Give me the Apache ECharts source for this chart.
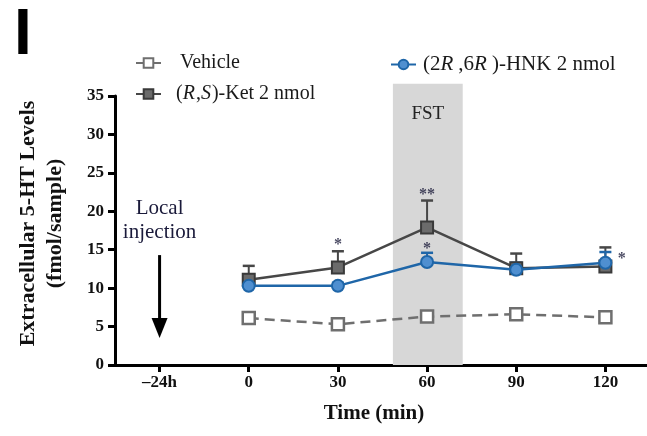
<!DOCTYPE html>
<html>
<head>
<meta charset="utf-8">
<script src="https://cdn.jsdelivr.net/npm/echarts@6/dist/echarts.min.js"></script>
<style>
  html, body { margin: 0; padding: 0; background: #fff; }
  #chart { width: 647px; height: 436px; }
</style>
</head>
<body>
<div id="chart"></div>
<script>
// Sampling times (min) and axis ticks; -30 stands for the -24 h injection point
const timePoints = [0, 30, 60, 90, 120];
const tickValues = [-30, 0, 30, 60, 90, 120];
const tickLabels = ['–24h', '0', '30', '60', '90', '120'];

// Extracellular 5-HT (fmol/sample): means and upper SEM
const vehicle  = [6.1, 5.3, 6.3, 6.6, 6.2];
const ketMean  = [11.1, 12.7, 17.9, 12.6, 12.8];
const ketUpper = [12.9, 14.8, 21.4, 14.5, 15.3];
const hnkMean  = [10.3, 10.3, 13.4, 12.4, 13.3];
const hnkUpper = [11.4, 10.7, 14.6, 13.3, 14.7];

// Significance marks
const starX    = [30, 60, 60, 125.5];
const starY    = [16.2, 22.6, 15.6, 14.3];
const starText = ['*', '**', '*', '*'];

// Forced swim test window and local injection marker
const fstWindow = [48.5, 72];
const fstTop = 36.6;
const injectionTime = -30;
const injectionArrow = [14.3, 3.5];
const injectionText = [['Local', 20.4], ['injection', 17.2]];

const SERIF = '"Liberation Serif", "Times New Roman", serif';
const names = ['Vehicle', '(R,S)-Ket 2 nmol', '(2R,6R)-HNK 2 nmol'];
const colors = { vehicle: '#6f6f6f', ket: '#474747', hnk: '#1f66a8' };

// italicise the stereo descriptors R / S in legend names
function richName(name) {
  return name.split(/([RS])/).filter(s => s.length).map(s =>
    (s === 'R' || s === 'S') ? '{i|' + s + '}' : '{n|' + s + '}').join('');
}

function errorBars(means, uppers, color) {
  return {
    type: 'custom',
    silent: true,
    z: 3,
    encode: { x: 0, y: [1, 2] },
    data: timePoints.map((t, i) => [t, means[i], uppers[i]]),
    renderItem(params, api) {
      const p0 = api.coord([api.value(0), api.value(1)]);
      const p1 = api.coord([api.value(0), api.value(2)]);
      return {
        type: 'group',
        children: [
          { type: 'line', shape: { x1: p0[0], y1: p0[1], x2: p1[0], y2: p1[1] },
            style: { stroke: color, lineWidth: 2 } },
          { type: 'line', shape: { x1: p1[0] - 6, y1: p1[1], x2: p1[0] + 6, y2: p1[1] },
            style: { stroke: color, lineWidth: 2.5 } }
        ]
      };
    }
  };
}

function legendAt(name, left, top, pad, fs, italicGap) {
  return {
    data: [name], left: left, top: top, itemWidth: 25, itemHeight: 12,
    selectedMode: false, formatter: richName,
    textStyle: {
      fontFamily: SERIF, fontSize: fs, color: '#1a1a1a', padding: [0, 0, 0, pad],
      rich: {
        n: { fontFamily: SERIF, fontSize: fs, color: '#1a1a1a' },
        i: { fontFamily: SERIF, fontSize: fs, fontStyle: 'italic', color: '#1a1a1a',
             padding: [0, italicGap, 0, 0] }
      }
    }
  };
}

const chart = echarts.init(document.getElementById('chart'), null, { renderer: 'canvas' });
chart.setOption({
  animation: false,
  backgroundColor: '#fff',
  grid: { left: 115, right: 0, top: 96, bottom: 71, containLabel: false },
  legend: [
    legendAt(names[0], 130, 48, 14, 20, 0),
    legendAt(names[1], 130, 79, 10, 20, 1),
    legendAt(names[2], 385, 49, 2, 21, 5)
  ],
  graphic: [
    { type: 'text', left: 14, top: 4,
      style: { text: 'I', fontFamily: '"Liberation Sans", Arial, sans-serif',
               fontWeight: 'bold', fontSize: 64, fill: '#000' } }
  ],
  xAxis: {
    type: 'value', min: -45, max: 134,
    axisLine: { show: true, onZero: false, lineStyle: { color: '#000', width: 3 } },
    axisTick: { show: true, customValues: tickValues, length: 7, lineStyle: { color: '#000', width: 3 } },
    axisLabel: {
      customValues: tickValues, margin: 9,
      formatter: v => tickLabels[tickValues.indexOf(v)],
      fontFamily: SERIF, fontWeight: 'bold', fontSize: 17, color: '#111'
    },
    splitLine: { show: false },
    name: 'Time (min)', nameLocation: 'middle', nameGap: 38,
    nameTextStyle: { fontFamily: SERIF, fontWeight: 'bold', fontSize: 21, color: '#111', padding: [0, 14, 0, 0] }
  },
  yAxis: {
    type: 'value', min: 0, max: 35, interval: 5,
    axisLine: { show: true, onZero: false, lineStyle: { color: '#000', width: 3 } },
    axisTick: { show: true, length: 7, lineStyle: { color: '#000', width: 3 } },
    axisLabel: { margin: 11, fontFamily: SERIF, fontWeight: 'bold', fontSize: 17, color: '#111' },
    splitLine: { show: false },
    name: 'Extracellular 5-HT Levels\n(fmol/sample)',
    nameLocation: 'middle', nameRotate: 90, nameGap: 46,
    nameTextStyle: { fontFamily: SERIF, fontWeight: 'bold', fontSize: 22, lineHeight: 27, color: '#111',
                     padding: [0, 0, 0, 14] }
  },
  series: [
    { // FST shaded window with its label
      type: 'custom', silent: true, clip: false, z: 1,
      data: [[fstWindow[0], fstWindow[1], fstTop]],
      renderItem(params, api) {
        const a = api.coord([api.value(0), api.value(2)]);
        const b = api.coord([api.value(1), 0]);
        return {
          type: 'group',
          children: [
            { type: 'rect', shape: { x: a[0], y: a[1], width: b[0] - a[0], height: b[1] - a[1] },
              style: { fill: '#d7d7d7' } },
            { type: 'text', x: (a[0] + b[0]) / 2, y: a[1] + 30,
              style: { text: 'FST', fontFamily: SERIF, fontSize: 19, fill: '#222',
                       align: 'center', verticalAlign: 'middle' } }
          ]
        };
      }
    },
    { // local injection note and arrow
      type: 'custom', silent: true, clip: false, z: 5,
      data: [[injectionTime, injectionArrow[0], injectionArrow[1]]],
      renderItem(params, api) {
        const top = api.coord([api.value(0), api.value(1)]);
        const tip = api.coord([api.value(0), api.value(2)]);
        const children = [
          { type: 'line', shape: { x1: top[0], y1: top[1], x2: tip[0], y2: tip[1] - 16 },
            style: { stroke: '#000', lineWidth: 3 } },
          { type: 'polygon', shape: { points: [[tip[0] - 8, tip[1] - 20], [tip[0] + 8, tip[1] - 20], [tip[0], tip[1]]] },
            style: { fill: '#000' } }
        ];
        injectionText.forEach(([txt, v]) => {
          const p = api.coord([api.value(0), v]);
          children.push({ type: 'text', x: p[0], y: p[1],
            style: { text: txt, fontFamily: SERIF, fontSize: 21, fill: '#1a1a3a',
                     align: 'center', verticalAlign: 'middle' } });
        });
        return { type: 'group', children };
      }
    },
    {
      name: names[0], type: 'line', z: 4,
      data: timePoints.map((t, i) => [t, vehicle[i]]),
      symbol: 'rect', symbolSize: 12,
      lineStyle: { color: colors.vehicle, width: 2.5, type: [10, 6] },
      itemStyle: { color: '#fff', borderColor: colors.vehicle, borderWidth: 2.5 }
    },
    errorBars(ketMean, ketUpper, colors.ket),
    {
      name: names[1], type: 'line', z: 4,
      data: timePoints.map((t, i) => [t, ketMean[i]]),
      symbol: 'rect', symbolSize: 12,
      lineStyle: { color: colors.ket, width: 2.5 },
      itemStyle: { color: '#6b6b6b', borderColor: '#3a3a3a', borderWidth: 2 }
    },
    errorBars(hnkMean, hnkUpper, colors.hnk),
    {
      name: names[2], type: 'line', z: 5,
      data: timePoints.map((t, i) => [t, hnkMean[i]]),
      symbol: 'circle', symbolSize: 12,
      lineStyle: { color: colors.hnk, width: 2.5 },
      itemStyle: { color: '#4f8fd0', borderColor: colors.hnk, borderWidth: 2 }
    },
    { // significance asterisks
      type: 'scatter', silent: true, z: 6, symbolSize: 0,
      data: starX.map((x, i) => [x, starY[i], starText[i]]),
      label: {
        show: true, position: 'inside', offset: [0, 4],
        formatter: p => p.data[2],
        fontFamily: SERIF, fontWeight: 'bold', fontSize: 16, color: '#1a1a3a'
      }
    }
  ]
});
</script>
</body>
</html>
